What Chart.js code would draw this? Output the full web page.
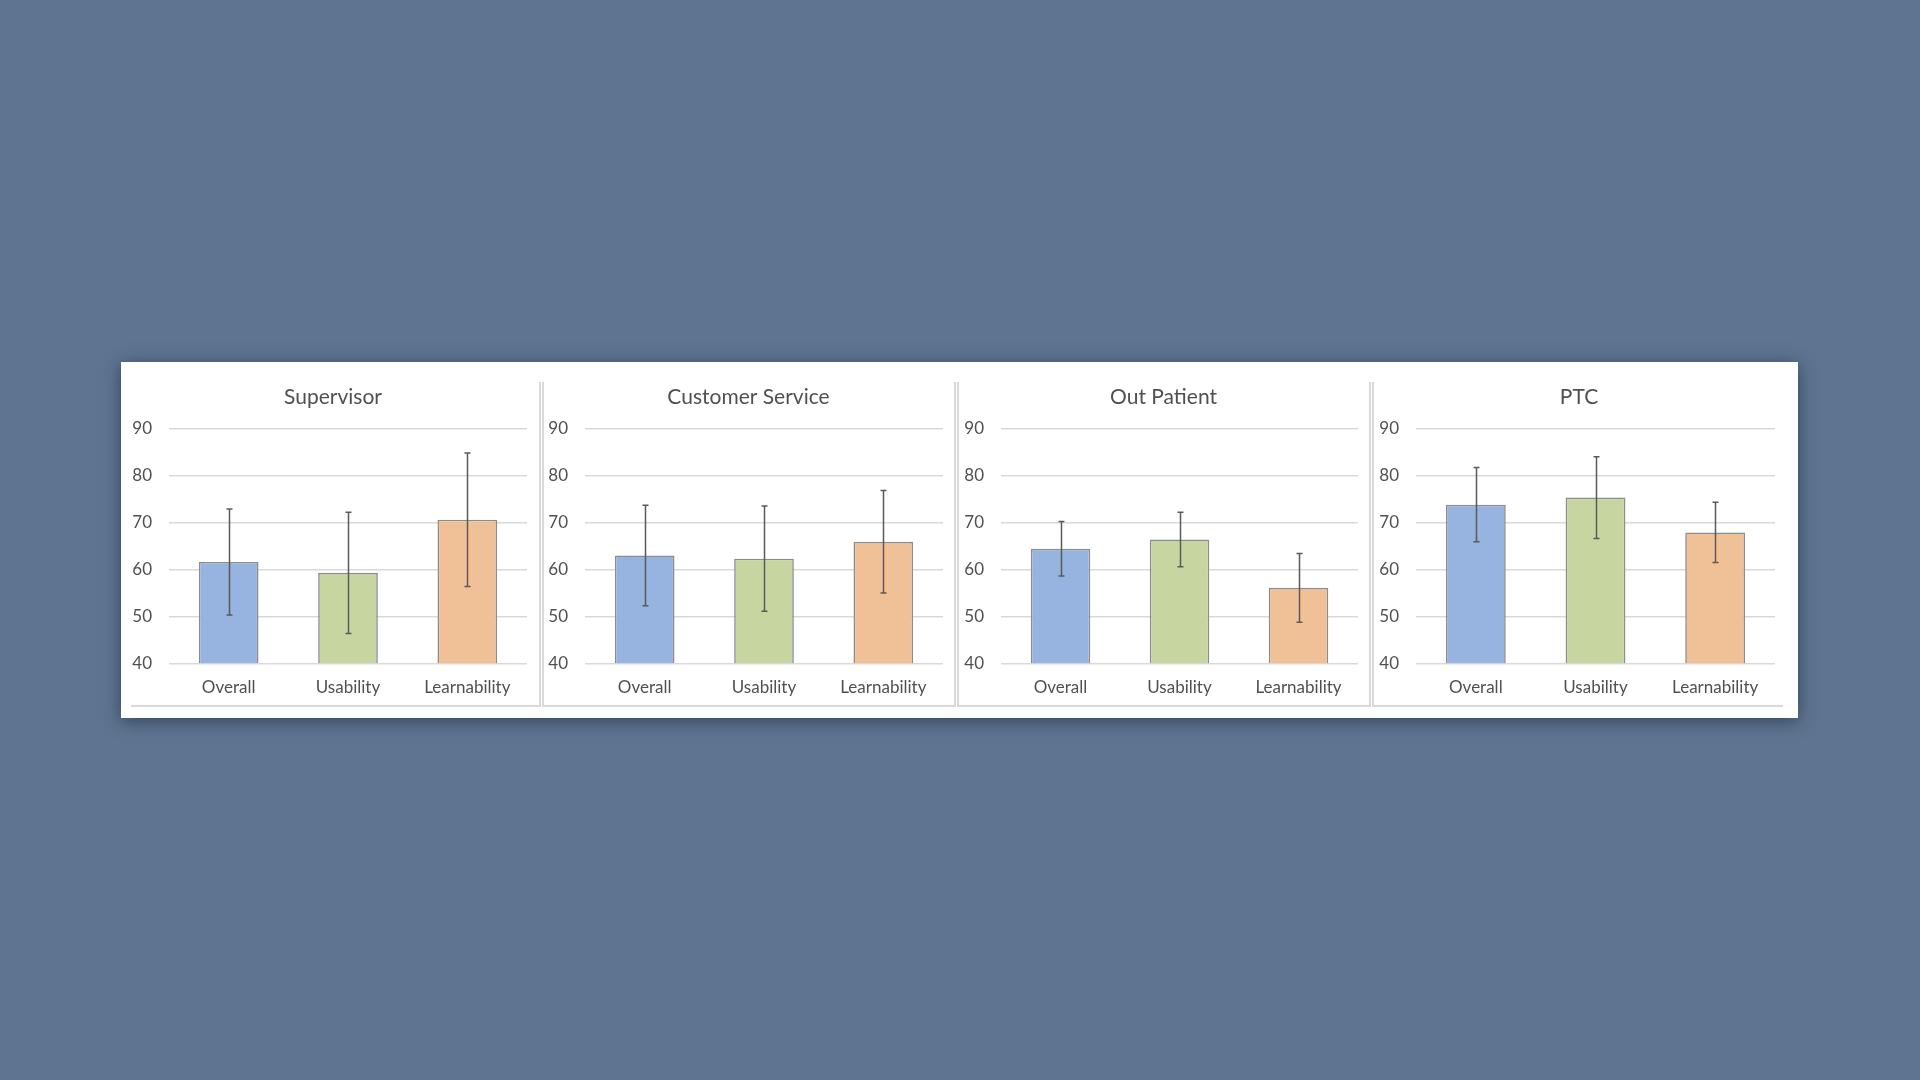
<!DOCTYPE html>
<html>
<head>
<meta charset="utf-8">
<script src="https://cdn.jsdelivr.net/npm/chart.js@4.4.1/dist/chart.umd.min.js"></script>
<style>
  html, body { margin: 0; padding: 0; width: 1920px; height: 1080px; overflow: hidden; background: #5e7490; }
  #panel { position: absolute; left: 121px; top: 362px; width: 1677px; height: 356px; background: #ffffff;
           box-shadow: 0 3px 16px rgba(20, 30, 50, 0.55); }
  .box { position: absolute; border-color: #d9d9d9; border-style: solid; border-width: 0; box-sizing: border-box; }
  canvas.c { position: absolute; }
</style>
</head>
<body>
<div id="panel"></div>
<script>
// ---- data ----
const categories = ['Overall', 'Usability', 'Learnability'];
const panelTitles = ['Supervisor', 'Customer Service', 'Out Patient', 'PTC'];
const supervisorMeans = [61.7, 59.4, 70.7];
const supervisorErrors = [11.3, 12.9, 14.2];
const customerServiceMeans = [63.1, 62.4, 66.0];
const customerServiceErrors = [10.7, 11.2, 10.9];
const outPatientMeans = [64.5, 66.5, 56.2];
const outPatientErrors = [5.8, 5.8, 7.3];
const ptcMeans = [73.9, 75.4, 68.0];
const ptcErrors = [7.9, 8.7, 6.4];
const yTicks = [40, 50, 60, 70, 80, 90];

const barColors = ['#97b3df', '#c7d6a0', '#f0c196'];
const FONT = 'Lato, "Open Sans", sans-serif';
const TEXT = '#505050';

const panelTop = 362, panelLeft = 121;
const layouts = [
  { plotLeft: 169, plotRight: 527, boxLeft: 126, boxRight: 540, lineLeft: 131, leftBorder: false, rightBorder: true },
  { plotLeft: 585, plotRight: 943, boxLeft: 542, boxRight: 955, lineLeft: 542, leftBorder: true, rightBorder: true },
  { plotLeft: 1001, plotRight: 1358, boxLeft: 957, boxRight: 1370, lineLeft: 957, leftBorder: true, rightBorder: true },
  { plotLeft: 1416, plotRight: 1775, boxLeft: 1372, boxRight: 1786, lineLeft: 1372, leftBorder: true, rightBorder: false }
];
const seriesMeans = [supervisorMeans, customerServiceMeans, outPatientMeans, ptcMeans];
const seriesErrors = [supervisorErrors, customerServiceErrors, outPatientErrors, ptcErrors];

const errorBarPlugin = {
  id: 'errorBars',
  afterDatasetsDraw(chart, args, opts) {
    const ctx = chart.ctx;
    const yScale = chart.scales.y;
    const meta = chart.getDatasetMeta(0);
    const means = chart.data.datasets[0].data;
    const errs = opts.errors;
    ctx.save();
    ctx.strokeStyle = '#5a5a5a';
    ctx.lineWidth = 1.5;
    meta.data.forEach((el, i) => {
      const x = Math.round(el.x) + 0.5;
      const yt = yScale.getPixelForValue(means[i] + errs[i]);
      const yb = yScale.getPixelForValue(means[i] - errs[i]);
      ctx.beginPath();
      ctx.moveTo(x, yt); ctx.lineTo(x, yb);
      ctx.moveTo(x - 3, yt); ctx.lineTo(x + 3, yt);
      ctx.moveTo(x - 3, yb); ctx.lineTo(x + 3, yb);
      ctx.stroke();
    });
    // panel title, centred on the whole chart box
    ctx.fillStyle = TEXT;
    ctx.font = '21px ' + FONT;
    ctx.textAlign = 'center';
    ctx.textBaseline = 'middle';
    ctx.fillText(opts.title, chart.width / 2, 35);
    ctx.restore();
  }
};

const panel = document.getElementById('panel');
const canvasTop = 362, canvasBottom = 705;

layouts.forEach((L, k) => {
  const box = document.createElement('div');
  box.className = 'box';
  box.style.left = (L.lineLeft - panelLeft) + 'px';
  box.style.top = (382 - panelTop) + 'px';
  box.style.width = (Math.min(L.boxRight, 1782) - L.lineLeft + 1) + 'px';
  box.style.height = (canvasBottom - 382 + 2) + 'px';
  if (L.rightBorder) box.style.borderRightWidth = '2px';
  box.style.borderBottomWidth = '2px';
  if (L.leftBorder) box.style.borderLeftWidth = '2px';
  panel.appendChild(box);

  const cv = document.createElement('canvas');
  cv.className = 'c';
  const w = L.boxRight - L.boxLeft, h = canvasBottom - canvasTop;
  cv.width = w; cv.height = h;
  cv.style.width = w + 'px'; cv.style.height = h + 'px';
  cv.style.left = (L.boxLeft - panelLeft) + 'px';
  cv.style.top = (canvasTop - panelTop) + 'px';
  cv.setAttribute('aria-label', panelTitles[k]);
  panel.appendChild(cv);

  new Chart(cv, {
    type: 'bar',
    data: {
      labels: categories,
      datasets: [{
        data: seriesMeans[k],
        backgroundColor: barColors,
        borderColor: '#8c8c8c',
        borderWidth: 1.6,
        barPercentage: 0.5,
        categoryPercentage: 1.0,
        base: 40
      }]
    },
    options: {
      responsive: false,
      animation: false,
      devicePixelRatio: 1,
      layout: { padding: { left: L.plotLeft - 43 - L.boxLeft, right: L.boxRight - L.plotRight, top: 67, bottom: 0 } },
      plugins: {
        legend: { display: false },
        tooltip: { enabled: false },
        title: { display: false },
        errorBars: { errors: seriesErrors[k], title: panelTitles[k] }
      },
      scales: {
        x: {
          grid: { display: false, drawTicks: false },
          border: { display: false },
          ticks: { color: TEXT, font: { family: FONT, size: 17 }, padding: 13 },
          afterFit(s) { s.height = 41; }
        },
        y: {
          min: 40, max: 90,
          afterBuildTicks(s) { s.ticks = yTicks.map(v => ({ value: v })); },
          grid: { color: '#d9d9d9', lineWidth: 1.5, drawTicks: false },
          border: { display: false },
          ticks: { color: TEXT, font: { family: FONT, size: 17 }, padding: 17 },
          afterFit(s) { s.width = 43; }
        }
      }
    },
    plugins: [errorBarPlugin]
  });
});
</script>
</body>
</html>
